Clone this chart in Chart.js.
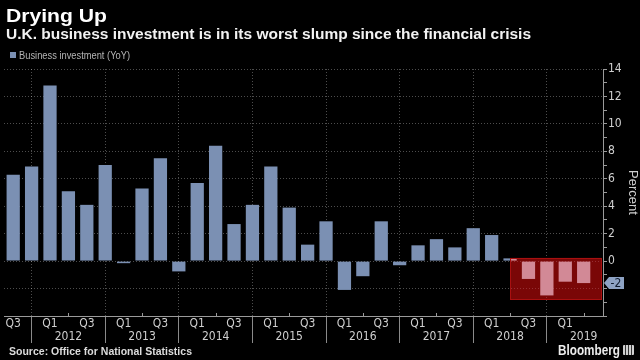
<!DOCTYPE html>
<html>
<head>
<meta charset="utf-8">
<script src="https://cdn.jsdelivr.net/npm/chart.js@4.4.1/dist/chart.umd.min.js"></script>
<style>
  html, body { margin: 0; padding: 0; background: #000; }
  #wrap { position: relative; width: 640px; height: 360px; overflow: hidden; }
  canvas { position: absolute; left: 0; top: 0; }
  .txt { position: absolute; white-space: nowrap; line-height: 1; transform-origin: 0 0;
         font-family: 'Liberation Sans', Arial, sans-serif; }
  #title { left: 6px; top: 7px; font-size: 18px; font-weight: bold; color: #fff; }
  #subtitle { left: 6px; top: 27px; font-size: 14px; font-weight: bold; color: #f2f2f2; }
  #legendBox { position: absolute; left: 10px; top: 52px; width: 6px; height: 6px; background: #7b90b3; }
  #legendText { left: 19px; top: 50px; font-size: 11px; color: #b4b4b4; }
  #source { left: 9px; top: 346px; font-size: 11px; font-weight: bold; color: #dcdcdc; }
  #brand { left: 558px; top: 343px; font-size: 14px; font-weight: bold; color: #ececec; }
  #brandIcon { position: absolute; left: 623px; top: 345px; width: 11px; height: 10px; border-radius: 1px;
               background: linear-gradient(to right, #d0d0d0 2px, #333 2px, #333 3px, #d0d0d0 3px,
                 #d0d0d0 5px, #333 5px, #333 6px, #d0d0d0 6px, #d0d0d0 8px, #333 8px, #333 9px, #d0d0d0 9px); }
</style>
</head>
<body>
<div id="wrap">
  <canvas id="chart" width="640" height="360"></canvas>
  <div class="txt" id="title">Drying Up</div>
  <div class="txt" id="subtitle">U.K. business investment is in its worst slump since the financial crisis</div>
  <div id="legendBox"></div>
  <div class="txt" id="legendText">Business investment (YoY)</div>
  <div class="txt" id="source">Source: Office for National Statistics</div>
  <div class="txt" id="brand">Bloomberg</div>
  <div id="brandIcon"></div>
</div>
<script>
// quarters, oldest first
const quarters = [
  "2011 Q3", "2011 Q4",
  "2012 Q1", "2012 Q2", "2012 Q3", "2012 Q4",
  "2013 Q1", "2013 Q2", "2013 Q3", "2013 Q4",
  "2014 Q1", "2014 Q2", "2014 Q3", "2014 Q4",
  "2015 Q1", "2015 Q2", "2015 Q3", "2015 Q4",
  "2016 Q1", "2016 Q2", "2016 Q3", "2016 Q4",
  "2017 Q1", "2017 Q2", "2017 Q3", "2017 Q4",
  "2018 Q1", "2018 Q2", "2018 Q3", "2018 Q4",
  "2019 Q1", "2019 Q2"
];

// business investment, % YoY
const investment = [
  6.3, 6.9,
  12.8, 5.1, 4.1, 7.0,
  -0.15, 5.3, 7.5, -0.75,
  5.7, 8.4, 2.7, 4.1,
  6.9, 3.9, 1.2, 2.9,
  -2.1, -1.1, 2.9, -0.3,
  1.15, 1.6, 1.0, 2.4,
  1.9, 0.2, -1.3, -2.5,
  -1.5, -1.6
];

const yTicks = [14, 12, 10, 8, 6, 4, 2, 0];

// red "slump" box: from the Q2 2018 bar to the axis, value range
const boxFromIndex = 27;
const boxTop = 0.25;
const boxBottom = -2.8;

const barColor = "#7b90b3";
const gridColor = "rgba(255,255,255,0.3)";
const axisColor = "#9a9a9a";
const tickFont = { family: "'Liberation Sans Narrow', 'DejaVu Sans Condensed', sans-serif", size: 12 };

function quarterOf(i) { return quarters[i] ? quarters[i].split(" ")[1] : ""; }

// squeeze the html text to the widths seen in the picture
function fitWidth(id, w) {
  const el = document.getElementById(id);
  const r = w / el.getBoundingClientRect().width;
  el.style.transform = `scaleX(${r})`;
}
fitWidth("title", 101);
fitWidth("subtitle", 525);
fitWidth("legendText", 111);
fitWidth("source", 183);
fitWidth("brand", 62);

const slumpBox = {
  id: "slumpBox",
  afterDatasetsDraw(chart) {
    const { ctx, chartArea, scales: { x, y } } = chart;
    const left = x.getPixelForValue(boxFromIndex);
    const right = chartArea.right - 1;
    const top = y.getPixelForValue(boxTop);
    const bottom = y.getPixelForValue(boxBottom);

    ctx.save();
    ctx.beginPath();
    ctx.rect(left, top, right - left, bottom - top);
    ctx.clip();
    // tint what is already drawn (bars, grid) pink, then put dark red behind it
    ctx.globalCompositeOperation = "source-atop";
    ctx.fillStyle = "#d28996";
    ctx.fillRect(left, top, right - left, bottom - top);
    ctx.globalCompositeOperation = "destination-over";
    ctx.fillStyle = "#7a0707";
    ctx.fillRect(left, top, right - left, bottom - top);
    ctx.restore();

    ctx.save();
    ctx.strokeStyle = "#a81010";
    ctx.lineWidth = 1;
    ctx.strokeRect(Math.round(left) + 0.5, Math.round(top) + 0.5, Math.round(right - left) - 1, Math.round(bottom - top) - 1);

    // small upward marks at mid-year on the time axis
    ctx.strokeStyle = axisColor;
    quarters.forEach((q, i) => {
      if (quarterOf(i) !== "Q2") return;
      const px = Math.round(x.getPixelForValue(i)) + 0.5;
      ctx.beginPath();
      ctx.moveTo(px, chartArea.bottom);
      ctx.lineTo(px, chartArea.bottom - 3);
      ctx.stroke();
    });

    // last value tag on the right axis
    const last = investment[investment.length - 1];
    const cy = y.getPixelForValue(last);
    const ax = chartArea.right + 1;
    ctx.fillStyle = "#8ea3c4";
    ctx.beginPath();
    ctx.moveTo(ax, cy);
    ctx.lineTo(ax + 5, cy - 6);
    ctx.lineTo(ax + 20, cy - 6);
    ctx.lineTo(ax + 20, cy + 6);
    ctx.lineTo(ax + 5, cy + 6);
    ctx.closePath();
    ctx.fill();
    ctx.fillStyle = "#0e1a2e";
    ctx.font = "12px " + tickFont.family;
    ctx.textAlign = "center";
    ctx.textBaseline = "middle";
    ctx.fillText(String(Math.round(last)), ax + 12, cy + 0.5);
    ctx.restore();
  }
};

new Chart(document.getElementById("chart"), {
  type: "bar",
  data: {
    datasets: [{
      label: "Business investment (YoY)",
      data: investment.map((v, i) => ({ x: i, y: v })),
      backgroundColor: barColor,
      barPercentage: 0.72,
      categoryPercentage: 1
    }]
  },
  options: {
    responsive: false,
    animation: false,
    layout: { padding: { top: 69, left: 4, right: 0, bottom: 0 } },
    plugins: { legend: { display: false }, tooltip: { enabled: false } },
    scales: {
      x: {
        type: "linear",
        min: -0.5,
        max: 32.05,
        offset: false,
        afterFit: (s) => { s.height = 44; },
        afterBuildTicks: (s) => { s.ticks = quarters.map((q, i) => ({ value: i })); },
        grid: {
          offset: false,
          color: (c) => quarterOf(c.index) === "Q4" ? gridColor : "transparent",
          tickColor: (c) => quarterOf(c.index) === "Q4" ? "#8a8a8a" : "transparent",
          tickLength: 27,
          tickBorderDash: []
        },
        border: { color: axisColor, dash: [1, 2] },
        ticks: {
          autoSkip: false,
          maxRotation: 0,
          padding: -25,
          color: "#cfcfcf",
          font: { family: tickFont.family, size: 12, lineHeight: 1.05 },
          callback: (v) => {
            const [yr, q] = quarters[v].split(" ");
            if (q === "Q1" || q === "Q3") return q;
            if (q === "Q2") return ["", yr];
            return "";
          }
        }
      },
      y: {
        position: "right",
        min: -4,
        max: 14,
        afterFit: (s) => { s.width = 37; },
        grid: {
          color: (c) => (c.tick.value % 2 === 0 && c.tick.value > -4) ? gridColor : "transparent",
          tickColor: axisColor,
          tickLength: 4,
          tickBorderDash: []
        },
        border: { color: axisColor, dash: [1, 2] },
        ticks: {
          stepSize: 1,
          autoSkip: false,
          padding: 1,
          color: "#cfcfcf",
          font: tickFont,
          callback: (v) => yTicks.includes(v) ? String(v) : ""
        },
        title: {
          display: true,
          text: "Percent",
          color: "#cfcfcf",
          padding: 0,
          font: { family: "'Liberation Sans', Arial, sans-serif", size: 13 }
        }
      }
    }
  },
  plugins: [slumpBox]
});
</script>
</body>
</html>
